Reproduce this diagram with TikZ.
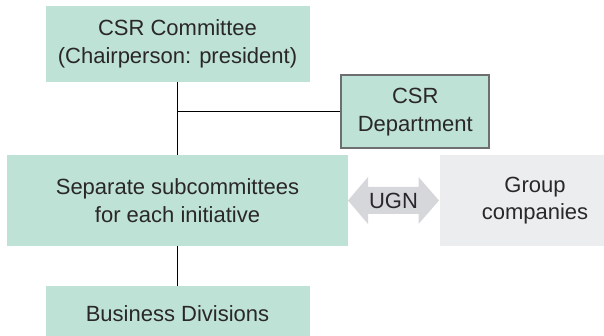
\documentclass[tikz,border=0pt]{standalone}
\usepackage{fontspec}
\setmainfont{Liberation Sans}
\definecolor{boxgreen}{HTML}{BEE2D5}
\definecolor{boxgray}{HTML}{ECEDEF}
\definecolor{arrgray}{HTML}{D6D7DB}
\definecolor{bordergray}{HTML}{6D6E70}
\definecolor{txt}{HTML}{2A2728}
\begin{document}
\begin{tikzpicture}[x=1pt,y=-1pt,
  every node/.style={font=\fontsize{22}{27.5}\selectfont, text=txt, align=center, inner sep=0pt},
  gbox/.style={fill=boxgreen, draw=none},
  conn/.style={draw=black, line width=1pt}]
\useasboundingbox (0,0) rectangle (604,336);
% boxes
\node[gbox, minimum width=264pt, minimum height=76pt] (csr) at (177.5,44) {CSR Committee\\(Chairperson: president)};
\node[gbox, draw=bordergray, line width=2pt, minimum width=148pt, minimum height=73pt] (dept) at (415.25,112) {CSR\\Department};
\node[gbox, minimum width=341pt, minimum height=91pt] (sub) at (177.5,200.5) {Separate subcommittees\\for each initiative};
\node[fill=boxgray, minimum width=190pt, minimum height=91pt] (grp) at (535,200.5) {Group\\companies};
\node[gbox, minimum width=264pt, minimum height=56pt] (biz) at (177.5,314) {Business Divisions};
% connectors
\coordinate (j) at (177.5,112);
\draw[conn] (csr.south) -- (sub.north);
\draw[conn] (j) -- (dept.west);
\draw[conn] (sub.south) -- (biz.north);
% double arrow
\coordinate (ua) at (393.5,200.5);
\fill[arrgray] ([xshift=-45.5pt]ua) -- ([xshift=-25.5pt,yshift=23.5pt]ua) -- ([xshift=-25.5pt,yshift=13.5pt]ua) -- ([xshift=25pt,yshift=13.5pt]ua) -- ([xshift=25pt,yshift=23.5pt]ua) -- ([xshift=45.5pt]ua) -- ([xshift=25pt,yshift=-23.5pt]ua) -- ([xshift=25pt,yshift=-13.5pt]ua) -- ([xshift=-25.5pt,yshift=-13.5pt]ua) -- ([xshift=-25.5pt,yshift=-23.5pt]ua) -- cycle;
\node (ugn) at (ua) {UGN};
\end{tikzpicture}
\end{document}
